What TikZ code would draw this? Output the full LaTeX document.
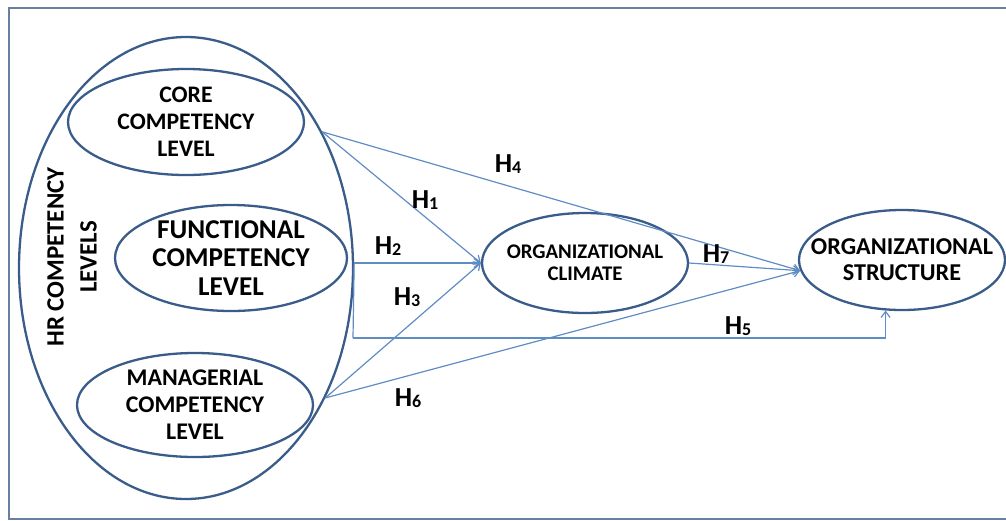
\documentclass[tikz,border=0pt]{standalone}
\usepackage{fontspec}
\setmainfont{Carlito}
\usetikzlibrary{shapes.geometric,arrows.meta}
\definecolor{ringblue}{RGB}{58,92,138}
\definecolor{linkblue}{RGB}{96,140,196}
\definecolor{framegray}{RGB}{104,128,160}
\newcommand{\hyp}[1]{H\raisebox{-0.1ex}{\fontsize{18}{18}\selectfont #1}}
\begin{document}
\begin{tikzpicture}[x=1pt,y=-1pt,
  ring/.style={ellipse,draw=ringblue,line width=2.3pt,inner sep=0pt},
  ringtext/.style={align=center,inner sep=0pt},
  link/.style={draw=linkblue,line width=1.2pt,-{Straight Barb[length=6pt,width=9pt,line width=1.2pt]}},
  plainlink/.style={draw=linkblue,line width=1.2pt},
  hlabel/.style={font=\fontsize{27.5}{27.5}\selectfont\bfseries,inner sep=0pt}]
\useasboundingbox (0,0) rectangle (1006,520);
% outer frame
\draw[framegray,line width=2pt] (1012,7.5) -- (9,7.5) -- (9,519) -- (1012,519);

% competency levels
\node[ring,minimum width=334pt,minimum height=462pt] (hr) at (186,268) {};
\node[ring,minimum width=236pt,minimum height=106pt] (core) at (186,122) {};
\node[ringtext,font=\fontsize{23.7}{27}\selectfont\bfseries] (coretext) at (core.center) {CORE\\COMPETENCY\\LEVEL};
\node[ring,minimum width=232pt,minimum height=106pt] (func) at (231,258) {};
\node[ringtext,font=\fontsize{27.2}{28.5}\selectfont\bfseries] (functext) at (func.center) {FUNCTIONAL\\COMPETENCY\\LEVEL};
\node[ring,minimum width=236pt,minimum height=104pt] (manag) at (195,405) {};
\node[ringtext,font=\fontsize{23.9}{27}\selectfont\bfseries] (managtext) at (manag.center) {MANAGERIAL\\COMPETENCY\\LEVEL};
\node[ringtext,rotate=90,font=\fontsize{24.9}{33}\selectfont\bfseries] (hrtitle) at (72,257) {HR COMPETENCY\\LEVELS};

% outcome constructs
\node[ring,minimum width=206pt,minimum height=100pt] (climate) at (585,263) {};
\node[ringtext,font=\fontsize{20.8}{22}\selectfont\bfseries] (climatetext) at (climate.center) {ORGANIZATIONAL\\CLIMATE};
\node[ring,minimum width=206pt,minimum height=100pt] (struct) at (902,260) {};
\node[ringtext,font=\fontsize{24.2}{26}\selectfont\bfseries] (structtext) at (struct.center) {ORGANIZATIONAL\\STRUCTURE};

% hypothesised paths
\coordinate (h5bend) at (353,338);
\draw[link] (hr.45) -- (climate.west);
\draw[link] (hr.45) -- (struct.186);
\draw[link] (hr.east |- climate.west) -- (climate.west);
\draw[link] (hr.-43) -- (climate.west);
\draw[link] (hr.-43) -- (struct.186);
\draw[link] (climate.east) -- (struct.186);
\draw[plainlink] (hr.east |- climate.west) -- (h5bend);
\draw[link] (h5bend) -| (struct.252);

% path labels
\node[hlabel] (lh1) at (425,200) {\hyp{1}};
\node[hlabel] (lh2) at (388,246) {\hyp{2}};
\node[hlabel] (lh3) at (407,297) {\hyp{3}};
\node[hlabel] (lh4) at (508,164) {\hyp{4}};
\node[hlabel] (lh5) at (738,326) {\hyp{5}};
\node[hlabel] (lh6) at (408,398) {\hyp{6}};
\node[hlabel] (lh7) at (716,254) {\hyp{7}};
\end{tikzpicture}
\end{document}
